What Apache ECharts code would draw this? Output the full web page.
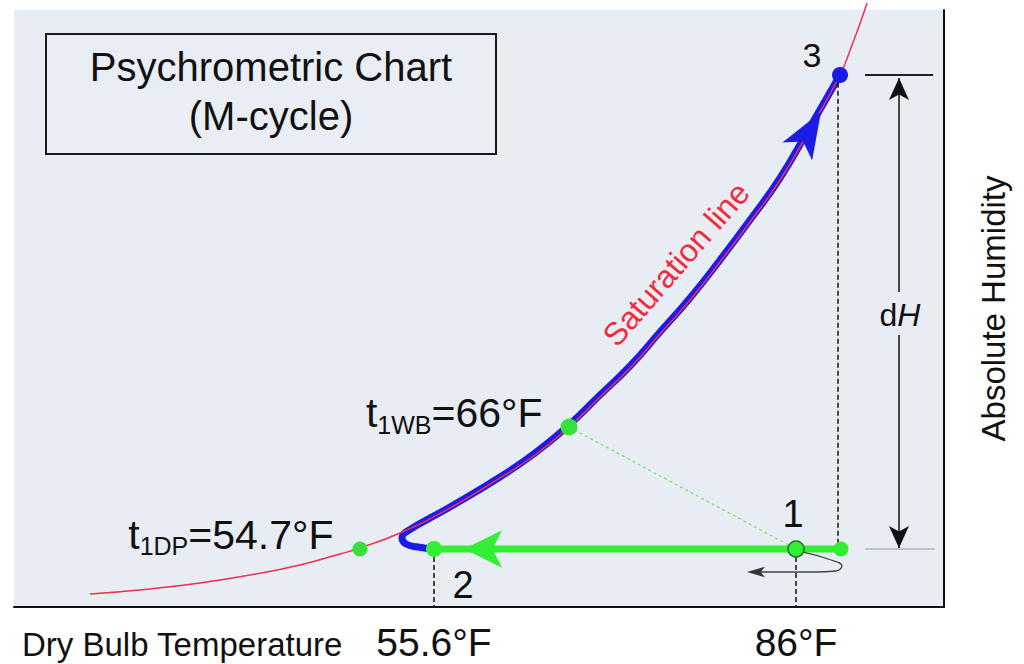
<!DOCTYPE html>
<html><head><meta charset="utf-8">
<script src="https://cdn.jsdelivr.net/npm/echarts@6.0.0/dist/echarts.min.js"></script>
<style>html,body{margin:0;padding:0;background:#fff}#chart{width:1024px;height:664px}</style>
</head><body><div id="chart"></div>
<script>
const FONT = "'Liberation Sans', Arial, Helvetica, sans-serif";

// Schematic chart units: x = dry-bulb position (0-100), y = absolute humidity position (0-100)
const satCurve = [[8.17,2.18],[14.62,3.02],[20.0,4.02],[25.38,5.36],[30.75,7.04],[35.05,8.88],[37.2,9.88],[41.51,12.4],[46.88,16.58],[52.26,21.61],[56.02,25.46],[59.68,30.15],[63.01,35.18],[66.24,40.03],[69.46,45.73],[72.69,51.42],[75.91,57.79],[79.14,64.49],[82.37,71.52],[85.59,80.07],[88.82,89.11],[90.11,94.14],[91.18,98.66],[91.72,101.17]];
const path2to3 = [[45.16,9.72],[43.44,10.05],[42.15,10.55],[41.72,11.56],[42.15,12.56],[46.88,16.75],[52.26,21.78],[56.02,25.8],[59.68,30.49],[63.01,35.51],[66.24,40.37],[69.46,46.06],[72.69,51.76],[75.91,58.12],[79.14,64.82],[82.37,71.86],[85.59,80.4],[88.82,89.11]];
const path1to2 = [[88.92,9.72],[45.16,9.72]];
const wetBulbLine = [[59.68,30.15],[84.09,9.72]];
const smallLoop = [[84.84,9.21],[87.53,8.04],[89.03,6.87],[88.39,6.03],[86.13,5.86],[79.68,5.86]];

const point1 = [84.09,9.72];
const point2 = [45.16,9.72];
const point3 = [88.82,89.11];
const point1End = [88.92,9.72];
const dewPoint = [37.2,9.72];
const wetBulbPoint = [59.68,30.15];

const blueArrowAt = [86.77,82.91];
const greenArrowAt = [48.39,9.72];
const loopArrowAt = [78.82,5.86];

const guideLines = [[[45.16,9.72],[45.16,0]],[[84.09,9.72],[84.09,0]],[[88.6,87.8],[88.6,9.72]]];
const dHTopSeg = [[95.16,88.61],[95.16,52.76]];
const dHBottomSeg = [[95.16,45.56],[95.16,9.88]];
const dHRefTop = [[91.51,89.11],[98.82,89.11]];
const dHRefBottom = [[91.51,9.72],[99.03,9.72]];
const dHLabelAt = [95.27,48.91];
const satLabelAt = [71.18,57.45];

const tickValues = [45.16, 84.09];
const tickLabels = ['55.6°F', '86°F'];

const GREEN = '#33ee33';
const BLUE = '#1c1ce6';
const RED = '#f0304c';

const chart = echarts.init(document.getElementById('chart'), null, {renderer: 'svg'});
const option = {
  animation: false,
  backgroundColor: '#ffffff',
  textStyle: {fontFamily: FONT},
  grid: {left: 14, right: 80, top: 10, bottom: 57, show: true, backgroundColor: '#e8edf4', borderWidth: 0},
  xAxis: {
    type: 'value', min: 0, max: 100,
    name: 'Dry Bulb Temperature', nameLocation: 'start', nameGap: -8,
    nameTextStyle: {align: 'left', verticalAlign: 'top', fontSize: 33, color: '#111', padding: [21, 0, 0, 0], fontFamily: FONT},
    axisLine: {show: true, onZero: false, lineStyle: {color: '#111', width: 2}},
    axisTick: {show: false},
    splitLine: {show: false},
    axisLabel: {
      show: true, customValues: tickValues, margin: 16, fontSize: 39, lineHeight: 39, color: '#111', fontFamily: FONT,
      formatter: function (v) {
        let best = 0;
        tickValues.forEach(function (t, i) { if (Math.abs(t - v) < Math.abs(tickValues[best] - v)) best = i; });
        return tickLabels[best];
      }
    }
  },
  yAxis: {
    type: 'value', min: 0, max: 100, position: 'right',
    name: 'Absolute Humidity', nameLocation: 'middle', nameRotate: 90, nameGap: 33,
    nameTextStyle: {fontSize: 33, color: '#111', fontFamily: FONT},
    axisLine: {show: true, onZero: false, lineStyle: {color: '#111', width: 2}},
    axisTick: {show: false}, axisLabel: {show: false}, splitLine: {show: false}
  },
  graphic: [
    {type: 'rect', shape: {x: 46, y: 34, width: 450, height: 120}, style: {fill: '#e9eef5', stroke: '#1a1a1a', lineWidth: 2}, z: 10},
    {type: 'text', x: 271, y: 67, style: {text: 'Psychrometric Chart', font: '40px ' + FONT, fill: '#111', align: 'center', verticalAlign: 'middle'}, z: 11},
    {type: 'text', x: 271, y: 116, style: {text: '(M-cycle)', font: '40px ' + FONT, fill: '#111', align: 'center', verticalAlign: 'middle'}, z: 11}
  ],
  series: [
    {name: 'wet bulb line', type: 'line', data: wetBulbLine, symbol: 'none', z: 1,
      lineStyle: {color: '#66e866', width: 1.2, type: [3, 3]}},
    {name: '2 to 3', type: 'line', data: path2to3, symbol: 'none', smooth: 0.5, z: 2,
      lineStyle: {color: BLUE, width: 7, cap: 'round', join: 'round'}},
    {name: 'Saturation line', type: 'line', data: satCurve, symbol: 'none', smooth: 0.5, clip: false, z: 3,
      lineStyle: {color: RED, width: 1.5}},
    {name: '1 to 2', type: 'line', data: path1to2, symbol: 'none', z: 4,
      lineStyle: {color: GREEN, width: 7}},
    {name: 'loop', type: 'line', data: smallLoop, symbol: 'none', smooth: 0.5, z: 4,
      lineStyle: {color: '#444', width: 1.3}},
    {name: 'guides', type: 'line', data: [], z: 2,
      markLine: {silent: true, symbol: ['none', 'none'], label: {show: false},
        lineStyle: {color: '#111', width: 1.5, type: [5, 3]},
        data: guideLines.map(function (s) { return [{coord: s[0]}, {coord: s[1]}]; })}},
    {name: 'dH', type: 'line', data: [], z: 2,
      markLine: {silent: true, label: {show: false}, symbol: ['none', 'none'],
        lineStyle: {color: '#111', width: 1.5, type: 'solid'},
        data: [
          [{coord: dHTopSeg[0], symbol: 'arrow', symbolSize: [15, 22]}, {coord: dHTopSeg[1], symbol: 'none'}],
          [{coord: dHBottomSeg[0], symbol: 'none'}, {coord: dHBottomSeg[1], symbol: 'arrow', symbolSize: [15, 22]}],
          [{coord: dHRefTop[0]}, {coord: dHRefTop[1], lineStyle: {color: '#222', width: 2}}],
          [{coord: dHRefBottom[0]}, {coord: dHRefBottom[1], lineStyle: {color: '#bcc1ca', width: 2}}]
        ]}},
    {name: 'arrowheads', type: 'scatter', z: 6, itemStyle: {opacity: 1},
      data: [
        {value: blueArrowAt, symbol: 'arrow', symbolSize: [26, 46], symbolRotate: -31, itemStyle: {color: BLUE, opacity: 1}},
        {value: greenArrowAt, symbol: 'arrow', symbolSize: [28, 38], symbolRotate: 90, itemStyle: {color: GREEN, opacity: 1}},
        {value: loopArrowAt, symbol: 'arrow', symbolSize: [8, 18], symbolRotate: 90, itemStyle: {color: '#333', opacity: 1}}
      ]},
    {name: 'points', type: 'scatter', z: 7, itemStyle: {opacity: 1},
      label: {show: true, position: 'inside', color: '#111', fontFamily: FONT},
      data: [
        {value: point3, symbolSize: 16, itemStyle: {color: BLUE}, label: {formatter: '3', fontSize: 34, offset: [-28, -20]}},
        {value: point1End, symbolSize: 15, itemStyle: {color: GREEN}, label: {show: false}},
        {value: point1, symbolSize: 16, itemStyle: {color: GREEN, borderColor: '#1f6f1f', borderWidth: 1.5}, label: {formatter: '1', fontSize: 38, offset: [-3, -35]}},
        {value: point2, symbolSize: 16, itemStyle: {color: GREEN}, label: {formatter: '2', fontSize: 38, offset: [29, 36]}},
        {value: dewPoint, symbolSize: 15, itemStyle: {color: '#3ae03a'},
          label: {position: 'left', distance: 19, offset: [0, -14], formatter: '{m|t}{s|1DP}{m|=54.7°F}',
            rich: {m: {fontSize: 41, lineHeight: 48, color: '#111', fontFamily: FONT}, s: {fontSize: 25, lineHeight: 24, verticalAlign: 'bottom', color: '#111', fontFamily: FONT}}}},
        {value: wetBulbPoint, symbolSize: 17, itemStyle: {color: '#3ae03a'},
          label: {position: 'left', distance: 18, offset: [0, -14], formatter: '{m|t}{s|1WB}{m|=66°F}',
            rich: {m: {fontSize: 41, lineHeight: 48, color: '#111', fontFamily: FONT}, s: {fontSize: 25, lineHeight: 24, verticalAlign: 'bottom', color: '#111', fontFamily: FONT}}}}
      ]},
    {name: 'labels', type: 'scatter', z: 7, symbolSize: 0, silent: true, itemStyle: {opacity: 1},
      data: [
        {value: satLabelAt, label: {show: true, position: 'inside', formatter: 'Saturation line', rotate: 49, fontSize: 32, color: '#f22a3c', fontFamily: FONT}},
        {value: dHLabelAt, label: {show: true, position: 'inside', formatter: '{d|d}{h|H}',
          rich: {d: {fontSize: 32, color: '#111', fontFamily: FONT}, h: {fontSize: 32, fontStyle: 'italic', color: '#111', fontFamily: FONT}}}}
      ]}
  ]
};
chart.setOption(option);
</script>
</body></html>
